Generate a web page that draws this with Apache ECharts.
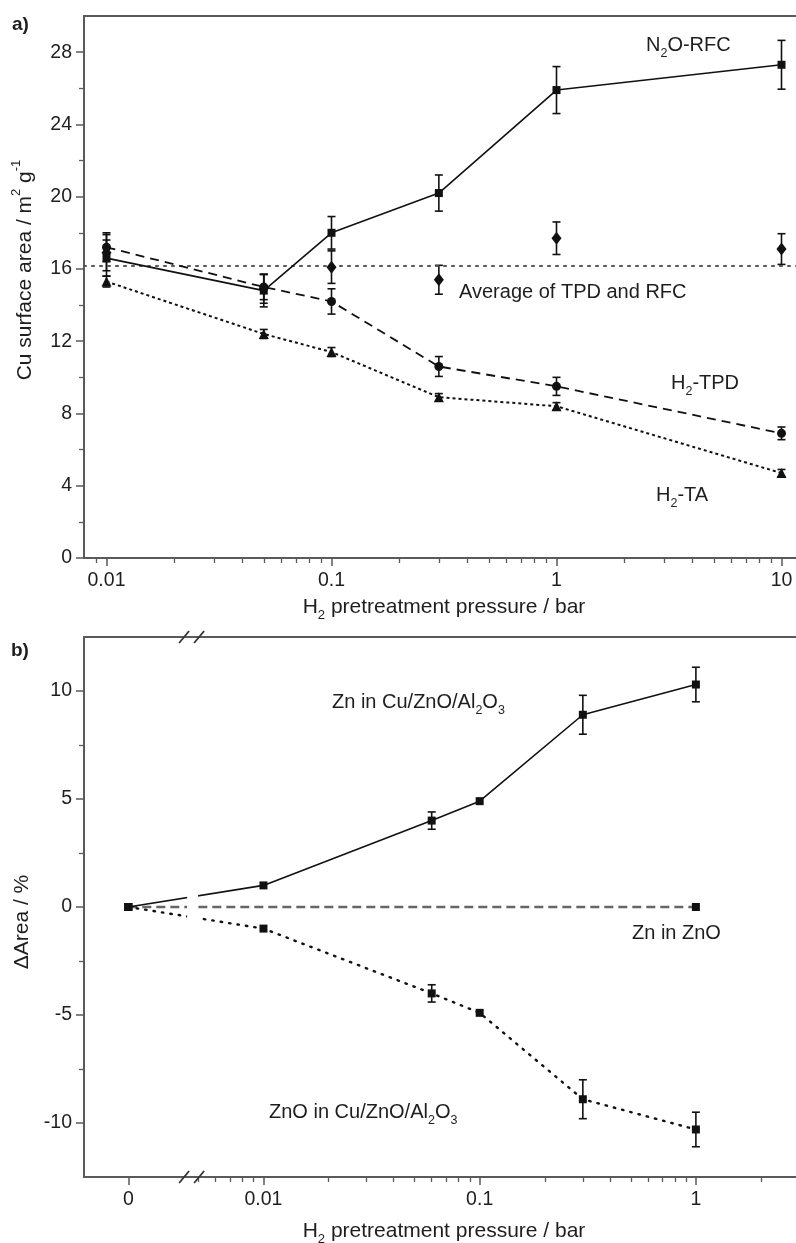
<!DOCTYPE html>
<html>
<head>
<meta charset="utf-8">
<script src="https://cdn.jsdelivr.net/npm/echarts@6/dist/echarts.min.js"></script>
<style>
  html, body { margin: 0; padding: 0; background: #fff; }
  #chart { width: 796px; height: 1243px; }
</style>
</head>
<body>
<div id="chart"></div>
<script>
// ---------------- DATA ----------------
// Panel a)
const TOP_PRESSURE = [0.01, 0.05, 0.1, 0.3, 1, 10];
const N2O_RFC      = [16.6, 14.8, 18.0, 20.2, 25.9, 27.3];
const N2O_RFC_ERR  = [1.0, 0.9, 0.9, 1.0, 1.3, 1.35];
const H2_TPD       = [17.2, 15.0, 14.2, 10.6, 9.5, 6.9];
const H2_TPD_ERR   = [0.8, 0.7, 0.7, 0.55, 0.5, 0.35];
const H2_TA        = [15.3, 12.4, 11.4, 8.9, 8.4, 4.7];
const H2_TA_ERR    = [0.3, 0.25, 0.25, 0.2, 0.2, 0.2];
const AVG_TPD_RFC  = [16.9, 14.9, 16.1, 15.4, 17.7, 17.1];
const AVG_ERR      = [1.0, 0.8, 0.9, 0.8, 0.9, 0.85];
const AVG_LINE     = 16.2;
const TOP_Y_TICKS  = [0, 4, 8, 12, 16, 20, 24, 28];
const TOP_X_TICKS  = [0.01, 0.1, 1, 10];
const TOP_X_LABELS = ['0.01', '0.1', '1', '10'];

// Panel b)
const BOT_PRESSURE = [0, 0.01, 0.06, 0.1, 0.3, 1];
const ZN_CZA       = [0, 1.0, 4.0, 4.9, 8.9, 10.3];
const ZN_CZA_ERR   = [0, 0, 0.4, 0, 0.9, 0.8];
const ZNO_CZA      = [0, -1.0, -4.0, -4.9, -8.9, -10.3];
const ZNO_CZA_ERR  = [0, 0, 0.4, 0, 0.9, 0.8];
const ZN_ZNO_PRESSURE = [0, 1];
const ZN_ZNO       = [0, 0];
const BOT_Y_TICKS  = [-10, -5, 0, 5, 10];
const BOT_X_TICKS  = [0, 0.01, 0.1, 1];
const BOT_X_LABELS = ['0', '0.01', '0.1', '1'];

// ---------------- LAYOUT / STYLE ----------------
const FONT = '"Liberation Sans", Arial, Helvetica, sans-serif';
const TXT = '#1e1e1e';
const AX = '#5a5a5a';
const INK = '#111';
const FS_TICK = 19.5;
const FS_NOTE = 20;
const FS_TITLE = 21;

const G1 = { left: 84, top: 16, width: 720, height: 558 - 16 };
const G2 = { left: 84, top: 637, width: 720, height: 1177 - 637 };
const G2_TOP_PX = 637, G2_BOT_PX = 1177;

// broken bottom axis: linear in log10(p); p = 0 drawn at ZERO_POS
const ZERO_POS = -2.625;
const BREAK_POS = -2.33;
const TOP_MIN = -2.1, TOP_MAX = 1.1;
const BOT_MIN = -2.83, BOT_MAX = 0.5;

function xPos(p) { return p === 0 ? ZERO_POS : Math.log10(p); }

function minorLog(min, max, fromVal) {
  const out = [];
  for (let d = -4; d <= 2; d++) {
    for (let k = 2; k <= 9; k++) {
      const v = Math.log10(k) + d;
      if (v > min + 0.005 && v < max - 0.005 && (fromVal === undefined || v >= fromVal)) out.push(v);
    }
  }
  return out;
}

function richSet(fs, subFs) {
  return {
    n:   { fontSize: fs, fontFamily: FONT, color: TXT, lineHeight: 30 },
    sub: { fontSize: subFs, fontFamily: FONT, color: TXT, lineHeight: subFs, verticalAlign: 'bottom' },
    sup: { fontSize: subFs, fontFamily: FONT, color: TXT, lineHeight: subFs, verticalAlign: 'top' }
  };
}
const RICH_TITLE = richSet(FS_TITLE, 13);
const RICH_NOTE = richSet(FS_NOTE, 12.5);

function fmtLabel(ticks, labels) {
  return function (v) {
    for (let i = 0; i < ticks.length; i++) {
      if (Math.abs(xPos(ticks[i]) - v) < 1e-6) return labels[i];
    }
    return '';
  };
}

function pts(xs, ys) { return xs.map((x, i) => [xPos(x), ys[i]]); }

function errorSeries(xs, ys, es, axisIdx) {
  return {
    type: 'custom',
    xAxisIndex: axisIdx, yAxisIndex: axisIdx,
    z: 4, silent: true,
    data: xs.map((x, i) => [xPos(x), ys[i], es[i]]).filter(d => d[2] > 0),
    renderItem: function (params, api) {
      const x = api.value(0), y = api.value(1), e = api.value(2);
      const hi = api.coord([x, y + e]);
      const lo = api.coord([x, y - e]);
      const w = 4;
      const st = { stroke: INK, lineWidth: 1.6 };
      return {
        type: 'group',
        children: [
          { type: 'line', shape: { x1: hi[0], y1: hi[1], x2: lo[0], y2: lo[1] }, style: st },
          { type: 'line', shape: { x1: hi[0] - w, y1: hi[1], x2: hi[0] + w, y2: hi[1] }, style: st },
          { type: 'line', shape: { x1: lo[0] - w, y1: lo[1], x2: lo[0] + w, y2: lo[1] }, style: st }
        ]
      };
    }
  };
}

function lineSeries(xs, ys, axisIdx, symbol, size, lineType, opts) {
  opts = opts || {};
  return {
    type: 'line',
    xAxisIndex: axisIdx, yAxisIndex: axisIdx,
    data: pts(xs, ys),
    symbol: symbol, symbolSize: size, showSymbol: true,
    z: 5,
    itemStyle: { color: INK },
    lineStyle: lineType === null
      ? { opacity: 0, width: 0 }
      : { color: opts.color || INK, width: opts.width || 1.6, type: lineType, cap: opts.cap || 'butt' },
    emphasis: { disabled: true },
    markLine: opts.markLine
  };
}

function majorXAxis(gridIndex, min, max, ticks, labels, name, nameGap) {
  return {
    type: 'value', gridIndex: gridIndex, min: min, max: max, position: 'bottom',
    name: name, nameLocation: 'middle', nameGap: nameGap,
    nameTextStyle: { rich: RICH_TITLE },
    axisLine: { show: true, onZero: false, lineStyle: { color: AX, width: 2 } },
    axisTick: { show: true, inside: false, length: 8, lineStyle: { color: AX, width: 1.5 },
                customValues: ticks.map(xPos) },
    axisLabel: { show: true, color: TXT, fontSize: FS_TICK, fontFamily: FONT, margin: 13,
                 customValues: ticks.map(xPos), formatter: fmtLabel(ticks, labels) },
    splitLine: { show: false }
  };
}
function minorXAxis(gridIndex, min, max, vals) {
  return {
    type: 'value', gridIndex: gridIndex, min: min, max: max, position: 'bottom',
    axisLine: { show: false, onZero: false },
    axisTick: { show: true, inside: false, length: 5, lineStyle: { color: AX, width: 1.3 }, customValues: vals },
    axisLabel: { show: false },
    splitLine: { show: false }
  };
}
function majorYAxis(gridIndex, min, max, ticks, name, nameGap, namePad) {
  return {
    type: 'value', gridIndex: gridIndex, min: min, max: max, position: 'left',
    name: name, nameLocation: 'middle', nameGap: nameGap, nameRotate: 90,
    nameTextStyle: { rich: RICH_TITLE, padding: namePad },
    axisLine: { show: true, onZero: false, lineStyle: { color: AX, width: 2 } },
    axisTick: { show: true, inside: false, length: 8, lineStyle: { color: AX, width: 1.5 }, customValues: ticks },
    axisLabel: { show: true, color: TXT, fontSize: FS_TICK, fontFamily: FONT, margin: 12, customValues: ticks },
    splitLine: { show: false }
  };
}
function minorYAxis(gridIndex, min, max, vals) {
  return {
    type: 'value', gridIndex: gridIndex, min: min, max: max, position: 'left',
    axisLine: { show: false, onZero: false },
    axisTick: { show: true, inside: false, length: 5, lineStyle: { color: AX, width: 1.3 }, customValues: vals },
    axisLabel: { show: false },
    splitLine: { show: false }
  };
}

const topMinorY = TOP_Y_TICKS.slice(0, -1).map(v => v + 2);
const botMinorY = [-7.5, -2.5, 2.5, 7.5];

const chart = echarts.init(document.getElementById('chart'), null, { renderer: 'canvas' });

const gridBase = { show: true, borderColor: AX, borderWidth: 2, containLabel: false, outerBoundsMode: 'none' };

const option = {
  animation: false,
  backgroundColor: '#fff',
  grid: [
    Object.assign({}, gridBase, G1),
    Object.assign({}, gridBase, G2)
  ],
  xAxis: [
    majorXAxis(0, TOP_MIN, TOP_MAX, TOP_X_TICKS, TOP_X_LABELS,
      '{n|H}{sub|2}{n| pretreatment pressure / bar}', 34),
    minorXAxis(0, TOP_MIN, TOP_MAX, minorLog(TOP_MIN, TOP_MAX)),
    majorXAxis(1, BOT_MIN, BOT_MAX, BOT_X_TICKS, BOT_X_LABELS,
      '{n|H}{sub|2}{n| pretreatment pressure / bar}', 39),
    minorXAxis(1, BOT_MIN, BOT_MAX, minorLog(BOT_MIN, BOT_MAX, BREAK_POS + 0.02))
  ],
  yAxis: [
    majorYAxis(0, 0, 30, TOP_Y_TICKS, '{n|Cu surface area / m}{sup|2}{n| g}{sup|-1}', 44, [0, 0, 0, 34]),
    minorYAxis(0, 0, 30, topMinorY),
    majorYAxis(1, -12.5, 12.5, BOT_Y_TICKS, '{n|ΔArea / %}', 44, [0, 30, 0, 0]),
    minorYAxis(1, -12.5, 12.5, botMinorY)
  ],
  series: [
    // panel a
    lineSeries(TOP_PRESSURE, AVG_TPD_RFC, 0, 'diamond', [10, 13], null, {
      markLine: {
        silent: true, symbol: 'none', label: { show: false },
        lineStyle: { color: '#555', width: 2, type: [2, 6], cap: 'round' },
        data: [{ yAxis: AVG_LINE }]
      }
    }),
    lineSeries(TOP_PRESSURE, H2_TA, 0, 'triangle', 10, [3, 3], { width: 2 }),
    lineSeries(TOP_PRESSURE, H2_TPD, 0, 'circle', 9, [9, 6], { width: 1.8 }),
    lineSeries(TOP_PRESSURE, N2O_RFC, 0, 'rect', 8, 'solid', { width: 1.6 }),
    errorSeries(TOP_PRESSURE, AVG_TPD_RFC, AVG_ERR, 0),
    errorSeries(TOP_PRESSURE, H2_TA, H2_TA_ERR, 0),
    errorSeries(TOP_PRESSURE, H2_TPD, H2_TPD_ERR, 0),
    errorSeries(TOP_PRESSURE, N2O_RFC, N2O_RFC_ERR, 0),
    // panel b
    lineSeries(ZN_ZNO_PRESSURE, ZN_ZNO, 2, 'rect', 8, [9, 5], { width: 2.6, color: '#666' }),
    lineSeries(BOT_PRESSURE, ZNO_CZA, 2, 'rect', 8, [1.5, 7], { width: 2.4, cap: 'round' }),
    lineSeries(BOT_PRESSURE, ZN_CZA, 2, 'rect', 8, 'solid', { width: 1.6 }),
    errorSeries(BOT_PRESSURE, ZN_CZA, ZN_CZA_ERR, 2),
    errorSeries(BOT_PRESSURE, ZNO_CZA, ZNO_CZA_ERR, 2)
  ]
};
chart.setOption(option);

// ---------------- annotations, break marks ----------------
const bx = chart.convertToPixel({ xAxisIndex: 2 }, BREAK_POS);
function slash(cx, cy) {
  return { type: 'line', z: 120, shape: { x1: cx - 5, y1: cy + 6, x2: cx + 5, y2: cy - 6 },
           style: { stroke: '#333', lineWidth: 1.8 } };
}
function txt(x, y, rich) {
  return { type: 'text', z: 130, x: x, y: y,
           style: { text: rich, rich: RICH_NOTE, fill: TXT, font: FS_NOTE + 'px ' + FONT,
                    verticalAlign: 'middle', align: 'left' } };
}
chart.setOption({
  graphic: [
    // gap in the data lines at the axis break
    { type: 'rect', z: 110, shape: { x: bx - 5, y: G2_TOP_PX + 2, width: 11, height: G2_BOT_PX - G2_TOP_PX - 4 },
      style: { fill: '#fff' } },
    slash(bx - 8, G2_TOP_PX), slash(bx + 7, G2_TOP_PX),
    slash(bx - 8, G2_BOT_PX), slash(bx + 7, G2_BOT_PX),
    { type: 'text', z: 130, x: 12, y: 25,
      style: { text: 'a)', fill: TXT, font: 'bold 19px ' + FONT, verticalAlign: 'middle' } },
    { type: 'text', z: 130, x: 11, y: 651,
      style: { text: 'b)', fill: TXT, font: 'bold 19px ' + FONT, verticalAlign: 'middle' } },
    txt(646, 45, '{n|N}{sub|2}{n|O-RFC}'),
    txt(459, 292, '{n|Average of TPD and RFC}'),
    txt(671, 383, '{n|H}{sub|2}{n|-TPD}'),
    txt(656, 495, '{n|H}{sub|2}{n|-TA}'),
    txt(332, 702, '{n|Zn in Cu/ZnO/Al}{sub|2}{n|O}{sub|3}'),
    txt(632, 933, '{n|Zn in ZnO}'),
    txt(269, 1112, '{n|ZnO in Cu/ZnO/Al}{sub|2}{n|O}{sub|3}')
  ]
});
</script>
</body>
</html>
